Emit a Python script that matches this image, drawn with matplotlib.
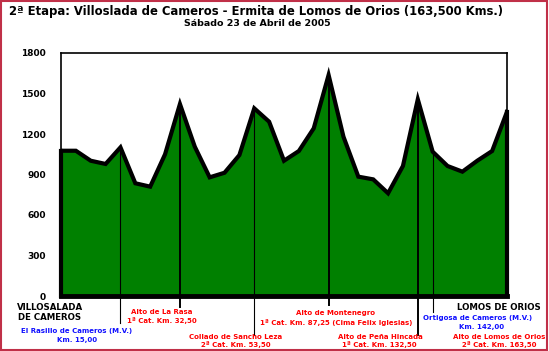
import matplotlib
matplotlib.use("Agg")
import matplotlib.pyplot as plt
from matplotlib.patches import Rectangle

# Elevation profile (m), evenly spaced sample points along the stage
altitudes = [1076, 1076, 1002, 978, 1101, 835, 810, 1050, 1422, 1106, 879, 913,
             1044, 1390, 1291, 1002, 1074, 1242, 1637, 1180, 884, 864, 761, 963,
             1457, 1069, 963, 921, 1002, 1074, 1365]
yticks = [0, 300, 600, 900, 1200, 1500, 1800]

# Marked points: sample index, line bottom (m), line width
mark_index = [4, 8, 13, 18, 24, 25]
mark_bottom = [-200, -85, -290, -70, -290, -120]
mark_lw = [0.8, 1.4, 0.8, 1.4, 1.4, 0.8]

title = "2ª Etapa: Villoslada de Cameros - Ermita de Lomos de Orios (163,500 Kms.)"
subtitle = "Sábado 23 de Abril de 2005"

W, H = 549, 351
fig = plt.figure(figsize=(W / 100, H / 100), dpi=100)
ax = fig.add_axes([61 / W, 1 - 296 / H, 446 / W, 243 / H])

x = list(range(len(altitudes)))
ax.fill_between(x, altitudes, 0, color="#008000", lw=0)
ax.plot(x, altitudes, color="black", lw=3, solid_joinstyle="miter", zorder=3)
# thick edges of the profile (left, bottom, right)
ax.plot([0, 0], [0, altitudes[0]], color="black", lw=3, zorder=3, clip_on=False)
ax.plot([x[-1], x[-1]], [0, altitudes[-1]], color="black", lw=3, zorder=3, clip_on=False)
ax.plot([0, x[-1]], [0, 0], color="black", lw=3.5, zorder=3, clip_on=False)

for i, b, lw in zip(mark_index, mark_bottom, mark_lw):
    ax.plot([i, i], [b, altitudes[i]], color="black", lw=lw, zorder=2.5, clip_on=False)

ax.set_xlim(0, x[-1])
ax.set_ylim(0, 1800)
ax.set_xticks([])
ax.set_yticks(yticks)
ax.set_yticklabels([str(v) for v in yticks], fontsize=6.5, fontweight="bold")
ax.tick_params(axis="y", length=0, pad=11)
for s in ax.spines.values():
    s.set_linewidth(1.2)
    s.set_color("black")

def ftext(px, py, s, color="black", size=5.0, weight="bold"):
    fig.text(px / W, 1 - py / H, s, ha="center", va="center", color=color,
             fontsize=size, fontweight=weight)

ftext(256, 12, title, size=8.4)
ftext(257, 24, subtitle, size=6.8)

ftext(50, 307, "VILLOSALADA", size=6.2)
ftext(50, 318, "DE CAMEROS", size=6.2)
ftext(77, 331, "El Rasillo de Cameros (M.V.)", color="#1010ff")
ftext(77, 340, "Km. 15,00", color="#1010ff")
ftext(162, 312, "Alto de La Rasa", color="red")
ftext(162, 321, "1ª Cat. Km. 32,50", color="red")
ftext(236, 337, "Collado de Sancho Leza", color="red")
ftext(236, 345, "2ª Cat. Km. 53,50", color="red")
ftext(336, 313, "Alto de Montenegro", color="red")
ftext(336, 322, "1ª Cat. Km. 87,25 (Cima Felix Iglesias)", color="red")
ftext(380, 337, "Alto de Peña Hincada", color="red")
ftext(379, 345, "1ª Cat. Km. 132,50", color="red")
ftext(499, 308, "LOMOS DE ORIOS", size=6.2)
ftext(478, 318, "Ortigosa de Cameros (M.V.)", color="#1010ff")
ftext(482, 327, "Km. 142,00", color="#1010ff")
ftext(499, 337, "Alto de Lomos de Orios", color="red")
ftext(499, 345, "2ª Cat. Km. 163,50", color="red")

fig.patches.append(Rectangle((0.002, 0.003), 0.994, 0.994, transform=fig.transFigure,
                             fill=False, edgecolor="#c03048", lw=1.5))

fig.savefig("out.png", dpi=100)
